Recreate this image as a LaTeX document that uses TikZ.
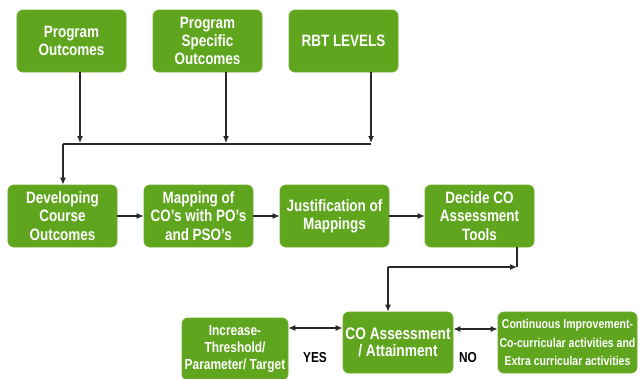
\documentclass[tikz,border=0pt]{standalone}
\usepackage{fontspec}
\setmainfont{Liberation Sans}[FakeStretch=0.82]
\usetikzlibrary{arrows.meta}
\definecolor{boxgreen}{RGB}{95,165,30}
\definecolor{boxedge}{RGB}{110,175,45}
\definecolor{lineclr}{RGB}{40,40,40}
\tikzset{
  gbox/.style={draw=boxedge, line width=0.8pt, fill=boxgreen, rounded corners=6pt,
    text=white, align=center, inner sep=1pt,
    font=\fontsize{16.5}{18.3}\selectfont\bfseries},
  conn/.style={draw=lineclr, line width=1.2pt, -{Latex[length=7pt,width=6pt]}},
  bconn/.style={draw=lineclr, line width=1.2pt, {Latex[length=7pt,width=6pt]}-{Latex[length=7pt,width=6pt]}},
  plain/.style={draw=lineclr, line width=1.2pt},
  lbl/.style={font=\fontsize{14.5}{16}\selectfont\bfseries, text=black}
}
\begin{document}
\begin{tikzpicture}[x=1bp,y=-1bp]
\useasboundingbox (0,0) rectangle (639,378);
% top row
\node[gbox, minimum width=109bp, minimum height=62bp] (po) at (71.5,41) {Program\\Outcomes};
\node[gbox, minimum width=109bp, minimum height=62bp] (pso) at (207.5,41) {Program\\Specific\\Outcomes};
\node[gbox, minimum width=109bp, minimum height=62bp] (rbt) at (343.5,41) {RBT LEVELS};
% second row
\node[gbox, minimum width=109bp, minimum height=62bp] (dev) at (62.5,216) {Developing\\Course\\Outcomes};
\node[gbox, minimum width=109bp, minimum height=62bp] (map) at (198.5,216) {Mapping of\\CO's with PO's\\and PSO's};
\node[gbox, minimum width=109bp, minimum height=62bp] (jus) at (334.5,216) {Justification of\\Mappings};
\node[gbox, minimum width=109bp, minimum height=62bp] (dec) at (479.5,216) {Decide CO\\Assessment\\Tools};
% third row
\node[gbox, minimum width=106bp, minimum height=62bp, font=\fontsize{14.6}{17.5}\selectfont\bfseries] (inc) at (235,349) {Increase-\\Threshold/\\Parameter/ Target};
\node[gbox, minimum width=110bp, minimum height=61bp, font=\fontsize{16.8}{17}\selectfont\bfseries] (coa) at (398,342.5) {CO Assessment\\/ Attainment};
\node[gbox, minimum width=139bp, minimum height=61bp, inner sep=0pt, font=\fontsize{12.9}{18.5}\selectfont\bfseries] (ci) at (567.5,342.5) {Continuous Improvement-\\Co-curricular activities and\\Extra curricular activities};
% junction coordinates
\coordinate (j1) at (80,143);
\coordinate (j2) at (226,143);
\coordinate (j3) at (371,143);
\coordinate (jl) at (63,144);
\coordinate (jr) at (371,144);
\coordinate (d1) at (517,267);
\coordinate (d2) at (388,267);
% top connectors
\draw[conn] (po.south -| j1) -- (j1);
\draw[conn] (pso.south -| j2) -- (j2);
\draw[conn] (rbt.south -| j3) -- (j3);
\draw[plain] (jr) -- (jl);
\draw[conn] (jl) -- (dev.north -| jl);
% second row connectors
\draw[conn] (dev) -- (map);
\draw[conn] (map) -- (jus);
\draw[conn] (jus) -- (dec);
% down to assessment
\draw[plain] (dec.south -| d1) -- (d1);
\draw[conn] (d2) -- (d1);
\draw[conn] (d2) -- (coa.north -| d2);
% bottom connectors
\draw[bconn] (inc.east |- 0,328) -- (coa.west |- 0,328);
\draw[bconn] (coa.east |- 0,329) -- (ci.west |- 0,329);
% labels
\node[lbl] (yes) at (315,358) {YES};
\node[lbl] (no) at (468,358) {NO};
\end{tikzpicture}
\end{document}
